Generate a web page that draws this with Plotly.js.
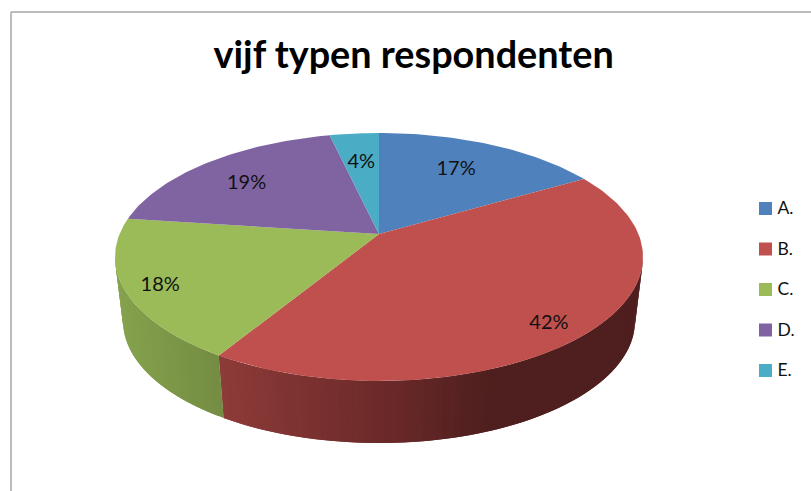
<!DOCTYPE html>
<html><head><meta charset="utf-8">
<script src="https://cdn.plot.ly/plotly-3.0.1.min.js"></script>
<style>html,body{margin:0;padding:0;background:#fff}#chart{width:811px;height:491px}</style>
</head><body><div id="chart"></div>
<script>
const categories = ['A.', 'B.', 'C.', 'D.', 'E.'];
const values = [16.6, 42.1, 18.4, 19.3, 3.6];
const sliceColors = ['#4f81bd', '#c0504d', '#9bbb59', '#8064a2', '#4bacc6'];
const chartTitle = 'vijf typen respondenten';

// view geometry of the tilted pie
const CX = 379, CY = 257, RX = 264, RY = 124;
const BCY = 321, BRX = 256, BRY = 122;
const K = 0.185, S = Math.sqrt(1 - K * K);
const labelRadius = [0.66, 0.85, 0.87, 0.73, 0.68];
const labelShiftX = [0, -4, 0, -4, 0];
const labelShiftY = [-2, 8, 4, 4, 1];
const LEG_X = 765.5, LEG_Y = 208.5, LEG_STEP = 40.5;

function proj(theta, r) {
  const x = r * Math.sin(theta), y = r * Math.cos(theta);
  const d = 1 + K * y;
  return [x * S / d, (y + K) / d];
}
const top2px = p => [CX + RX * p[0], CY - RY * p[1]];
const total = values.reduce((a, b) => a + b, 0);
const traces = [];

function poly(pts, color) {
  traces.push({
    type: 'scatter', mode: 'lines', x: pts.map(p => p[0]), y: pts.map(p => p[1]),
    fill: 'toself', fillcolor: color, line: {width: 0},
    hoverinfo: 'skip', showlegend: false
  });
}
function mix(a, b, t) {
  return 'rgb(' + a.map((v, i) => Math.round(v + (b[i] - v) * t)).join(',') + ')';
}
const wallStops = {
  1: [[218, [142, 59, 57]], [400, [103, 40, 39]], [490, [78, 31, 30]], [645, [78, 31, 30]]],
  2: [[115, [134, 162, 77]], [222, [115, 140, 66]]]
};
function wallColor(i, px) {
  const st = wallStops[i];
  if (px <= st[0][0]) return mix(st[0][1], st[0][1], 0);
  for (let j = 1; j < st.length; j++) {
    if (px <= st[j][0]) return mix(st[j - 1][1], st[j][1], (px - st[j - 1][0]) / (st[j][0] - st[j - 1][0]));
  }
  return mix(st[st.length - 1][1], st[st.length - 1][1], 0);
}

// slice angles
let acc = 0;
const slices = values.map(v => {
  const a0 = acc / total * 2 * Math.PI; acc += v;
  return [a0, acc / total * 2 * Math.PI];
});

// side walls: only where the rim faces the viewer (lower half of the ellipse)
slices.forEach((s, i) => {
  const p0 = proj(s[0], 1), p1 = proj(s[1], 1);
  let f0 = Math.atan2(p0[1], p0[0]), f1 = Math.atan2(p1[1], p1[0]);
  if (f1 > f0) f1 -= 2 * Math.PI;
  const lo = Math.min(f0, 0), hi = Math.max(f1, -Math.PI);
  if (lo <= hi) return;
  const n = Math.max(2, Math.ceil((lo - hi) / 0.025));
  const pt = (f, top) => top
    ? [CX + RX * Math.cos(f), CY - RY * Math.sin(f)]
    : [CX + BRX * Math.cos(f), BCY - BRY * Math.sin(f)];
  // every strip overlaps the next ones, so no seams show
  for (let j = 0; j < n; j++) {
    const a = lo + (hi - lo) * j / n;
    const b = lo + (hi - lo) * Math.min(n, j + 1) / n;
    const c = lo + (hi - lo) * Math.min(n, j + 2) / n;
    const mid = pt((a + b) / 2, 1);
    poly([pt(a, 1), pt(b, 1), pt(c, 1), pt(c, 0), pt(b, 0), pt(a, 0), pt(a, 1)], wallColor(i, mid[0]));
  }
});

// top face
slices.forEach((s, i) => {
  const pts = [top2px([0, K])];
  const n = Math.ceil((s[1] - s[0]) / 0.02);
  for (let j = 0; j <= n; j++) pts.push(top2px(proj(s[0] + (s[1] - s[0]) * j / n, 1)));
  pts.push(pts[0]);
  poly(pts, sliceColors[i]);
});

// percentage labels
traces.push({
  type: 'scatter', mode: 'text', hoverinfo: 'skip', showlegend: false,
  x: slices.map((s, i) => top2px(proj((s[0] + s[1]) / 2, labelRadius[i]))[0] + labelShiftX[i]),
  y: slices.map((s, i) => top2px(proj((s[0] + s[1]) / 2, labelRadius[i]))[1] + labelShiftY[i]),
  text: values.map(v => Math.round(v) + '%'),
  textposition: 'middle center',
  textfont: {family: 'Lato, Carlito, sans-serif', size: 20, color: '#111'}
});

// legend column
traces.push({
  type: 'scatter', mode: 'markers', hoverinfo: 'skip', showlegend: false,
  x: categories.map(() => LEG_X),
  y: categories.map((c, i) => LEG_Y + i * LEG_STEP),
  marker: {symbol: 'square', size: 13, color: sliceColors, line: {width: 0}}
});
traces.push({
  type: 'scatter', mode: 'text', hoverinfo: 'skip', showlegend: false,
  x: categories.map(() => LEG_X + 12),
  y: categories.map((c, i) => LEG_Y + 1.5 + i * LEG_STEP),
  text: categories,
  textposition: 'middle right',
  textfont: {family: 'Lato, Carlito, sans-serif', size: 17.5, color: '#111'}
});

const layout = {
  width: 811, height: 491,
  margin: {l: 0, r: 0, t: 0, b: 0},
  paper_bgcolor: '#fff', plot_bgcolor: '#fff',
  showlegend: false,
  xaxis: {range: [0, 811], visible: false, fixedrange: true},
  yaxis: {range: [491, 0], visible: false, fixedrange: true},
  title: {text: '<b>' + chartTitle + '</b>', x: 0.51, xanchor: 'center', y: 0.889, yanchor: 'middle',
          font: {family: 'Lato, Carlito, sans-serif', size: 37.8, color: '#000'}},
  shapes: [
    {type: 'line', x0: 11, x1: 11, y0: 12, y1: 491, line: {color: '#a6a6a6', width: 1.5}},
    {type: 'line', x0: 11, x1: 811, y0: 12, y1: 12, line: {color: '#a6a6a6', width: 1.5}}
  ]
};
Plotly.newPlot('chart', traces, layout, {displayModeBar: false, staticPlot: true});
</script></body></html>
